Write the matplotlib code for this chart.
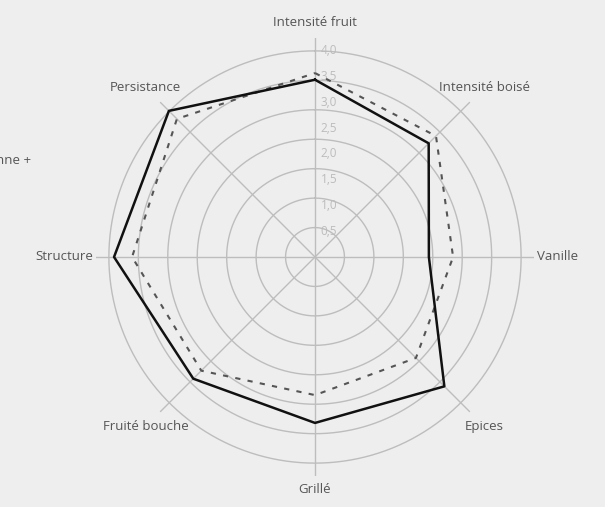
import numpy as np
import matplotlib
matplotlib.use("Agg")
import matplotlib.pyplot as plt

categories = ["Intensité fruit", "Intensité boisé", "Vanille", "Epices",
              "Grillé", "Fruité bouche", "Structure", "Persistance"]
serie_vin = [3.44, 3.12, 2.21, 3.55, 3.22, 3.34, 3.90, 4.01]
serie_moyenne = [3.57, 3.32, 2.68, 2.77, 2.68, 3.12, 3.55, 3.79]
tick_values = [0.5, 1.0, 1.5, 2.0, 2.5, 3.0, 3.5, 4.0]
tick_labels = ["0,5", "1,0", "1,5", "2,0", "2,5", "3,0", "3,5", "4,0"]
max_value = 4.0
n_levels = 7

BG = "#eeeeee"
GRID = "#bdbdbd"
TXT = "#555555"
plt.rcParams['font.family'] = ['Open Sans', 'DejaVu Sans']

fig = plt.figure(figsize=(6.05, 5.07), dpi=100, facecolor=BG)
ax = fig.add_axes([96/605, 31/507, 438/605, 438/507], projection='polar')
ax.set_facecolor(BG)
ax.set_theta_zero_location('N')
ax.set_theta_direction(-1)
rmax = 4.25
ax.set_ylim(0, rmax)
ax.grid(False)
ax.spines['polar'].set_visible(False)
ax.set_xticks([])
ax.set_yticks([])
ax.patch.set_alpha(0)

n = len(categories)
angles = np.arange(n) * 2 * np.pi / n

# circular gridlines
tt = np.linspace(0, 2*np.pi, 361)
for k in range(1, n_levels + 1):
    r = max_value * k / n_levels
    ax.plot(tt, np.full_like(tt, r), color=GRID, lw=1, zorder=1)

# spokes
for a in angles:
    ax.plot([a, a], [0, rmax], color=GRID, lw=1, zorder=1)

# tick labels
for v, lab in zip(tick_values, tick_labels):
    ax.annotate(lab, xy=(0, v), xytext=(4, 0), textcoords='offset points',
                ha='left', va='center', color="#bcbcbc", fontsize=8.5, zorder=2)

# series
a_closed = np.concatenate([angles, angles[:1]])
m = serie_moyenne + serie_moyenne[:1]
s = serie_vin + serie_vin[:1]
ax.plot(a_closed, m, color="#555555", lw=1.5, ls=(0, (2.5, 3.5)), zorder=3)
ax.plot(a_closed, s, color="#111111", lw=1.8, zorder=4)

# category labels
for a, lab in zip(angles, categories):
    deg = np.degrees(a) % 360
    if deg == 0:
        ax.text(a, 4.43, lab, ha='center', va='bottom', color=TXT, fontsize=9.5)
    elif deg == 180:
        ax.text(a, 4.38, lab, ha='center', va='top', color=TXT, fontsize=9.5)
    elif deg == 90:
        ax.text(a, 4.31, lab, ha='left', va='center', color=TXT, fontsize=9.5)
    elif deg == 270:
        ax.text(a, 4.31, lab, ha='right', va='center', color=TXT, fontsize=9.5)
    else:
        ax.text(a, 4.65, lab, ha='center', va='center', color=TXT, fontsize=9.5)

# cut-off legend text at left edge
fig.text(31/605, 1 - 160/507, "Moyenne +", ha='right', va='center',
         color=TXT, fontsize=9.5)

fig.savefig("out.png", dpi=100, facecolor=BG)
